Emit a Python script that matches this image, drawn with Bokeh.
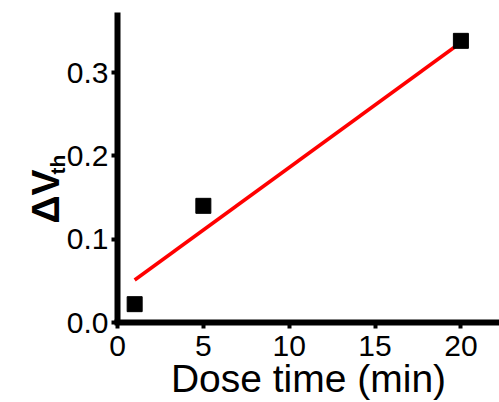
import math
from bokeh.plotting import figure
from bokeh.models import Range1d, Label, FixedTicker
from bokeh.embed import file_html
from bokeh.resources import INLINE

# data
dose_time = [1, 5, 20]
delta_vth = [0.022, 0.140, 0.338]
fit_x = [1, 20]
fit_y = [0.051, 0.336]
x_ticks = [0, 5, 10, 15, 20]
y_ticks = [0.0, 0.1, 0.2, 0.3]
y_tick_labels = {0.0: "0.0", 0.1: "0.1", 0.2: "0.2", 0.3: "0.3"}

FONT = "Liberation Sans"

# layout: frame spans the whole canvas; axes are pinned at data 0
W, H = 499, 402
X0_PX, Y0_PX = 117, 322          # screen position of data origin
PX_PER_X = 17.17                 # pixels per minute
PX_PER_Y = 833.3                 # pixels per volt
x_min = -X0_PX / PX_PER_X
x_max = (W - X0_PX) / PX_PER_X
y_min = -(H - Y0_PX) / PX_PER_Y
y_max = Y0_PX / PX_PER_Y
x_axis_end = x_max
y_axis_end = (Y0_PX - 12) / PX_PER_Y

p = figure(width=W, height=H, output_backend="svg", toolbar_location=None,
           x_range=Range1d(x_min, x_max), y_range=Range1d(y_min, y_max),
           min_border=0)
p.outline_line_color = None
p.grid.visible = False
p.background_fill_color = "white"
p.border_fill_color = "white"

p.line(fit_x, fit_y, line_color="#ff0000", line_width=3.5)
p.scatter(dose_time, delta_vth, marker="square", size=15,
          fill_color="black", line_color="black")

for ax in (p.xaxis[0], p.yaxis[0]):
    ax.fixed_location = 0
    ax.axis_line_width = 6
    ax.axis_line_color = "black"
    ax.major_tick_line_width = 4
    ax.major_tick_line_color = "black"
    ax.major_tick_out = 6
    ax.major_tick_in = 0
    ax.minor_tick_line_color = None
    ax.major_label_text_font = FONT
    ax.major_label_text_font_size = "30px"
    ax.major_label_text_color = "black"

p.xaxis.axis_line_cap = "square"
p.xaxis.bounds = (0, x_axis_end)
p.yaxis.bounds = (0, y_axis_end)
p.xaxis.ticker = FixedTicker(ticks=x_ticks)
p.yaxis.ticker = FixedTicker(ticks=y_ticks)
p.yaxis.major_label_overrides = y_tick_labels
p.xaxis.major_label_standoff = 7
p.yaxis.major_label_standoff = 3

p.xaxis.axis_label = "Dose time (min)"
p.xaxis.axis_label_text_font = FONT
p.xaxis.axis_label_text_font_size = "39px"
p.xaxis.axis_label_text_font_style = "normal"
p.xaxis.axis_label_text_color = "black"
p.xaxis.axis_label_standoff = -2

# y axis label "ΔV" with subscript "th"
p.add_layout(Label(x=-4.19, y=0.1512, text="ΔV", angle=math.pi / 2,
                   text_font=FONT, text_font_size="39px", text_font_style="bold",
                   text_align="center", text_baseline="alphabetic",
                   text_color="black"))
p.add_layout(Label(x=-3.52, y=0.1896, text="th", angle=math.pi / 2,
                   text_font=FONT, text_font_size="21px", text_font_style="bold",
                   text_align="center", text_baseline="alphabetic",
                   text_color="black"))

open("out.html", "w").write(file_html(p, INLINE))
